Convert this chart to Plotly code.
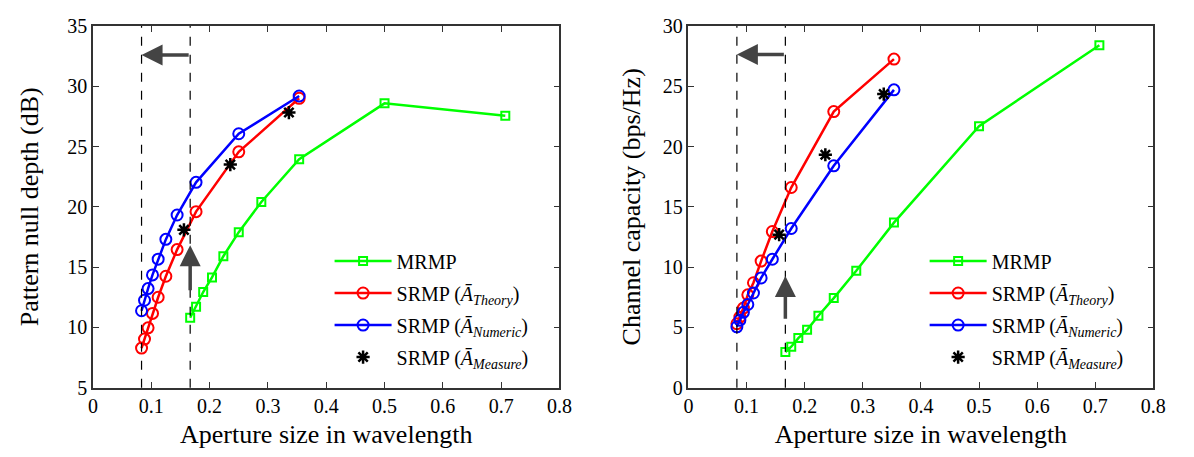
import plotly.graph_objects as go

# Aperture sizes (in wavelengths)
x_mrmp = [0.1667, 0.1768, 0.189, 0.2041, 0.2236, 0.25, 0.2887, 0.3536, 0.5, 0.7071]
x_srmp = [0.0833, 0.0884, 0.0945, 0.1021, 0.1118, 0.125, 0.1443, 0.1768, 0.25, 0.3536]
x_meas = [0.156, 0.2355, 0.336]

# Pattern null depth (dB)
null_mrmp = [10.8, 11.72, 12.93, 14.14, 15.9, 17.9, 20.4, 23.95, 28.58, 27.56]
null_theory = [8.28, 9.03, 9.96, 11.16, 12.5, 14.24, 16.45, 19.6, 24.56, 29.0]
null_numeric = [11.38, 12.25, 13.22, 14.35, 15.66, 17.3, 19.32, 22.03, 26.06, 29.19]
null_meas = [18.09, 23.5, 27.82]

# Channel capacity (bps/Hz)
cap_mrmp = [2.96, 3.4, 4.11, 4.8, 5.96, 7.43, 9.69, 13.69, 21.69, 28.4]
cap_theory = [5.3, 5.85, 6.6, 7.7, 8.7, 10.5, 12.95, 16.6, 22.9, 27.25]
cap_numeric = [5.05, 5.6, 6.25, 6.9, 7.85, 9.1, 10.65, 13.2, 18.4, 24.7]
cap_meas = [12.69, 19.32, 24.35]

# Reference aperture limits (dashed) and arrow levels
limits = [0.0833, 0.1667]
h_arrow_y = [32.6, 27.63]
v_arrow_y = [(12.95, 16.82), (5.59, 9.27)]

names = ["MRMP",
         "SRMP (<i>Ā</i><sub><i>Theory</i></sub>)",
         "SRMP (<i>Ā</i><sub><i>Numeric</i></sub>)",
         "SRMP (<i>Ā</i><sub><i>Measure</i></sub>)"]

FONT = "Liberation Serif, Times New Roman, serif"
GREEN, RED, BLUE = "#00ff00", "#ff0000", "#0000ff"

fig = go.Figure()


def add_panel(xa, ya, leg, mrmp, theory, numeric, meas):
    fig.add_trace(go.Scatter(x=x_mrmp, y=mrmp, name=names[0], mode="lines+markers",
                             line=dict(color=GREEN, width=2.5), legendgroup="g1",
                             marker=dict(symbol="square-open", size=8, color=GREEN, line=dict(width=2)),
                             xaxis=xa, yaxis=ya, legend=leg))
    fig.add_trace(go.Scatter(x=x_srmp, y=theory, name=names[1], mode="lines+markers",
                             line=dict(color=RED, width=2.5), legendgroup="g2",
                             marker=dict(symbol="circle-open", size=11, color=RED, line=dict(width=2)),
                             xaxis=xa, yaxis=ya, legend=leg))
    fig.add_trace(go.Scatter(x=x_srmp, y=numeric, name=names[2], mode="lines+markers",
                             line=dict(color=BLUE, width=2.5), legendgroup="g3",
                             marker=dict(symbol="circle-open", size=11, color=BLUE, line=dict(width=2)),
                             xaxis=xa, yaxis=ya, legend=leg))
    fig.add_trace(go.Scatter(x=x_meas, y=meas, name=names[3], mode="markers", legendgroup="g4",
                             marker=dict(symbol="asterisk-open", size=11, color="black",
                                         line=dict(width=2.5, color="black")),
                             xaxis=xa, yaxis=ya, legend=leg))


add_panel("x", "y", "legend", null_mrmp, null_theory, null_numeric, null_meas)
add_panel("x2", "y2", "legend2", cap_mrmp, cap_theory, cap_numeric, cap_meas)

# dashed limit lines
for xr, yr in (("x", "y"), ("x2", "y2")):
    for xv in limits:
        fig.add_shape(type="line", xref=xr, yref=yr + " domain", x0=xv, x1=xv, y0=0, y1=1,
                      line=dict(color="black", width=1.2, dash="dash"))

# arrows
ARROW = "#444444"
for i, (xr, yr) in enumerate((("x", "y"), ("x2", "y2"))):
    fig.add_annotation(x=limits[0], y=h_arrow_y[i], ax=limits[1], ay=h_arrow_y[i],
                       xref=xr, yref=yr, axref=xr, ayref=yr, text="", showarrow=True,
                       arrowhead=2, arrowsize=1.2, arrowwidth=3.5, arrowcolor=ARROW, standoff=0)
    y0, y1 = v_arrow_y[i]
    fig.add_annotation(x=limits[1], y=y1, ax=limits[1], ay=y0,
                       xref=xr, yref=yr, axref=xr, ayref=yr, text="", showarrow=True,
                       arrowhead=2, arrowsize=1.2, arrowwidth=3.5, arrowcolor=ARROW, standoff=0)

axis_common = dict(showline=True, linecolor="#333333", linewidth=1.5, mirror="ticks",
                   ticks="inside", ticklen=6, tickcolor="#333333", tickwidth=1.2,
                   showgrid=False, zeroline=False,
                   tickfont=dict(family=FONT, size=20, color="black"),
                   title_font=dict(family=FONT, size=26, color="black"))

x_dom1 = [0.0748, 0.4715]
x_dom2 = [0.5812, 0.9765]
y_dom = [0.1341, 0.9656]

legend_common = dict(y=0.47, xanchor="left", yanchor="top", itemwidth=57,
                     font=dict(family=FONT, size=20, color="black"),
                     bgcolor="rgba(0,0,0,0)", tracegroupgap=3)

fig.update_layout(
    width=1194, height=457, margin=dict(l=0, r=0, t=0, b=0),
    plot_bgcolor="white", paper_bgcolor="white",
    font=dict(family=FONT),
    xaxis=dict(domain=x_dom1, range=[0, 0.8], dtick=0.1, anchor="y",
               title=dict(text="Aperture size in wavelength", standoff=8), **axis_common),
    yaxis=dict(domain=y_dom, range=[5, 35], dtick=5, anchor="x",
               title=dict(text="Pattern null depth (dB)", standoff=21), **axis_common),
    xaxis2=dict(domain=x_dom2, range=[0, 0.8], dtick=0.1, anchor="y2",
                title=dict(text="Aperture size in wavelength", standoff=8), **axis_common),
    yaxis2=dict(domain=y_dom, range=[0, 30], dtick=5, anchor="x2",
                title=dict(text="Channel capacity (bps/Hz)", standoff=15), **axis_common),
    legend=dict(x=0.276, **legend_common),
    legend2=dict(x=0.782, **legend_common),
    showlegend=True,
)

fig.write_html("out.html")
